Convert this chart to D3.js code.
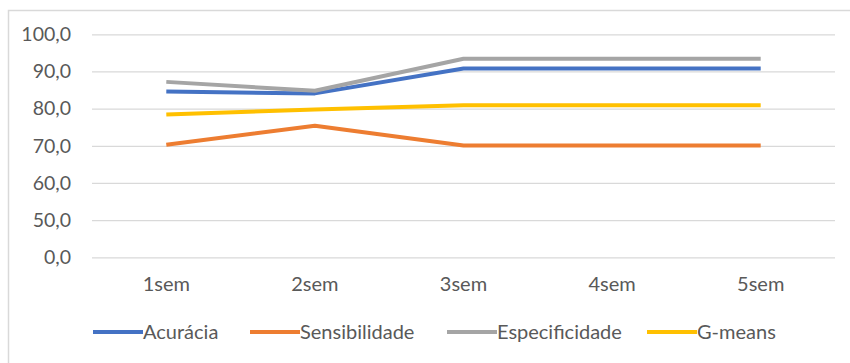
<!DOCTYPE html>
<html>
<head>
<meta charset="utf-8">
<script src="https://cdn.jsdelivr.net/npm/d3@7"></script>
<style>
  html, body { margin: 0; padding: 0; background: #fff; }
  svg { display: block; }
  text { font-family: Lato, "Open Sans", sans-serif; fill: #595959; }
</style>
</head>
<body>
<svg id="chart" width="850" height="363"></svg>
<script>
// Semesters on the x axis
const categories = ["1sem", "2sem", "3sem", "4sem", "5sem"];

// Metric values (%) per semester
const acuracia       = [84.6, 84.1, 90.8, 90.8, 90.8];
const sensibilidade  = [70.3, 75.4, 70.1, 70.1, 70.1];
const especificidade = [87.2, 84.8, 93.4, 93.4, 93.4];
const gmeans         = [78.4, 79.8, 80.9, 80.9, 80.9];

const seriesNames = ["Acurácia", "Sensibilidade", "Especificidade", "G-means"];
const seriesColors = ["#4472C4", "#ED7D31", "#A5A5A5", "#FFC000"];

// Axis ticks (the range 0–50 is compressed into one step)
const yTicks = [0, 50, 60, 70, 80, 90, 100];

const series = [acuracia, sensibilidade, especificidade, gmeans].map((values, i) => ({
  name: seriesNames[i],
  color: seriesColors[i],
  values
}));

const svg = d3.select("#chart");

// Chart frame
svg.append("rect")
  .attr("x", 8.5).attr("y", 10.5)
  .attr("width", 900).attr("height", 400)
  .attr("fill", "none").attr("stroke", "#D9D9D9").attr("stroke-width", 1.5);

const plotLeft = 92, plotRight = 835, plotTop = 34.3, plotBottom = 257.3;
const step = (plotBottom - plotTop) / 6;

const x = d3.scaleBand().domain(categories).range([plotLeft, plotRight]);
const y = d3.scaleLinear()
  .domain([0, 50, 100])
  .range([plotBottom, plotBottom - step, plotTop]);

const locale = d3.formatLocale({ decimal: ",", thousands: ".", grouping: [3], currency: ["", ""] });
const fmt = locale.format(".1f");

// Gridlines
const grid = svg.append("g")
  .attr("transform", `translate(${plotLeft},0)`)
  .call(d3.axisLeft(y).tickValues(yTicks).tickSize(-(plotRight - plotLeft)).tickFormat(""));
grid.select(".domain").remove();
grid.selectAll(".tick line").attr("stroke", "#D9D9D9").attr("stroke-width", 1.3);

// Y tick labels
const yAxis = svg.append("g")
  .attr("transform", `translate(${plotLeft},0)`)
  .call(d3.axisLeft(y).tickValues(yTicks).tickSize(0).tickPadding(21).tickFormat(fmt));
yAxis.select(".domain").remove();
yAxis.selectAll("text")
  .attr("font-size", 19.5)
  .attr("font-family", "Lato, 'Open Sans', sans-serif")
  .attr("fill", "#595959");

// X axis labels
const xAxis = svg.append("g")
  .attr("transform", `translate(0,${plotBottom})`)
  .call(d3.axisBottom(x).tickSize(0).tickPadding(20));
xAxis.select(".domain").remove();
xAxis.selectAll("text")
  .attr("font-size", 20)
  .attr("font-family", "Lato, 'Open Sans', sans-serif")
  .attr("fill", "#595959");

// Lines
const line = d3.line()
  .x((d, i) => x(categories[i]) + x.bandwidth() / 2)
  .y(d => y(d));

svg.append("g").selectAll("path")
  .data(series)
  .join("path")
  .attr("d", d => line(d.values))
  .attr("fill", "none")
  .attr("stroke", d => d.color)
  .attr("stroke-width", 4)
  .attr("stroke-linejoin", "round");

// Legend
const legendY = 332;
const legendX = [93, 250, 447, 647];
const legend = svg.append("g").selectAll("g")
  .data(series)
  .join("g")
  .attr("transform", (d, i) => `translate(${legendX[i]},${legendY})`);
legend.append("line")
  .attr("x1", 0).attr("x2", 50)
  .attr("stroke", d => d.color)
  .attr("stroke-width", 4);
legend.append("text")
  .attr("x", 50)
  .attr("dy", "0.35em")
  .attr("font-size", 20)
  .text(d => d.name);
</script>
</body>
</html>
